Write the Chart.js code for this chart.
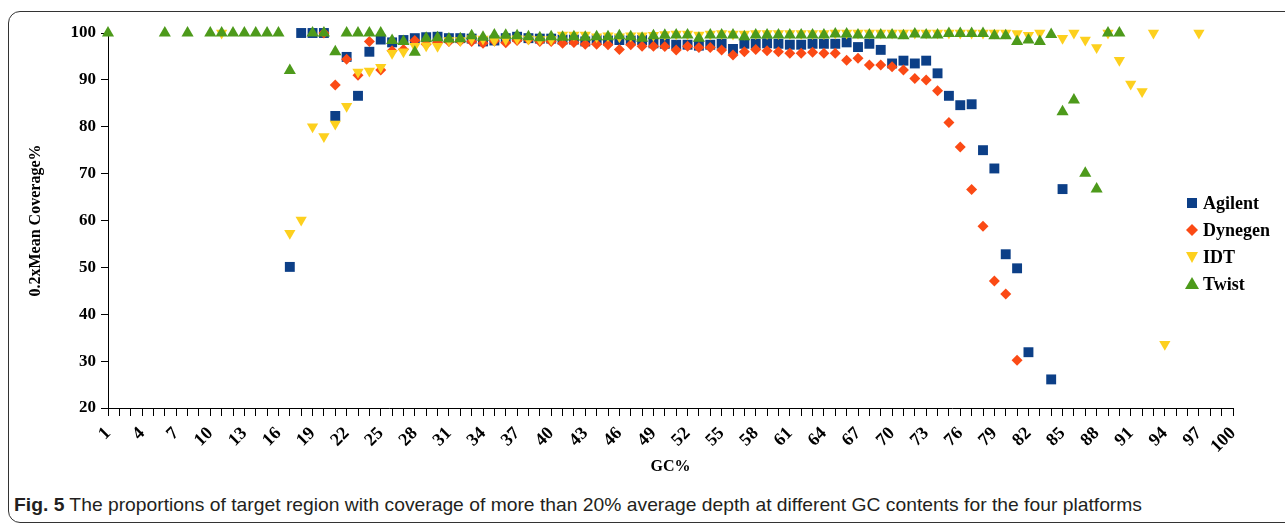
<!DOCTYPE html>
<html>
<head>
<meta charset="utf-8">
<script src="https://cdn.jsdelivr.net/npm/chart.js@4.4.0/dist/chart.umd.min.js"></script>
<style>
  html, body { margin: 0; padding: 0; background: #fff; }
  body { width: 1285px; height: 525px; position: relative; overflow: hidden; }
  #frame { position: absolute; left: 8px; top: 11px; width: 1300px; height: 512px;
           border: 1px solid #333; border-radius: 12px; box-sizing: border-box; }
  #wrap { position: absolute; left: 0; top: 0; width: 1285px; height: 480px; }
  #caption { position: absolute; left: 14px; top: 495px; font-family: "Liberation Sans Narrow", "Liberation Sans", sans-serif;
             font-size: 19px; line-height: 20px; color: #231f20; white-space: nowrap; transform-origin: left top; }
  #caption b { font-weight: bold; }
</style>
</head>
<body>
<div id="frame"></div>
<div id="wrap"><canvas id="gcChart" width="1285" height="480"></canvas></div>
<div id="caption"><b>Fig. 5</b> The proportions of target region with coverage of more than 20% average depth at different GC contents for the four platforms</div>

<script>
// GC% categories 1..100
const gcLabels = [];
for (let i = 1; i <= 100; i++) gcLabels.push(String(i));

// Agilent
const agilentGC = [17, 18, 19, 20, 21, 22, 23, 24, 25, 26, 27, 28, 29, 30, 31, 32, 33, 34, 35, 36, 37, 38, 39, 40,
    41, 42, 43, 44, 45, 46, 47, 48, 49, 50, 51, 52, 53, 54, 55, 56, 57, 58, 59, 60, 61, 62, 63, 64, 65, 66, 67, 68,
    69, 70, 71, 72, 73, 74, 75, 76, 77, 78, 79, 80, 81, 82, 84, 85];
const agilentCov = [50.1, 100, 100, 100, 82.3, 94.9, 86.6, 96.0, 98.6, 98.0, 98.5, 98.9, 99.1, 99.2, 98.9, 98.9, 98.8, 98.2, 98.4, 98.9, 99.2, 98.9, 98.8, 98.8,
    98.6, 98.6, 98.2, 98.5, 98.4, 98.5, 98.4, 98.5, 97.8, 97.7, 97.5, 97.5, 97.3, 97.5, 97.7, 96.6, 97.7, 97.7, 97.8, 97.7, 97.5, 97.5, 97.7, 97.7, 97.7, 98.0, 97.0, 97.7,
    96.4, 93.5, 94.1, 93.5, 94.1, 91.4, 86.6, 84.6, 84.8, 75.0, 71.1, 52.8, 49.8, 31.9, 26.1, 66.7];

// Dynegen
const dynegenGC = [20, 21, 22, 23, 24, 25, 26, 27, 28, 29, 30, 31, 32, 33, 34, 35, 36, 37, 38, 39, 40, 41, 42, 43, 44,
    45, 46, 47, 48, 49, 50, 51, 52, 53, 54, 55, 56, 57, 58, 59, 60, 61, 62, 63, 64, 65, 66, 67, 68, 69, 70, 71, 72,
    73, 74, 75, 76, 77, 78, 79, 80, 81];
const dynegenCov = [100, 88.9, 94.4, 91.0, 98.2, 92.1, 96.2, 96.5, 98.4, 97.6, 98.0, 98.2, 98.3, 98.2, 97.8, 98.3, 97.9, 98.4, 98.6, 98.2, 98.2, 97.8, 98.0, 97.6, 97.6,
    97.5, 96.5, 97.5, 97.2, 97.2, 97.1, 96.4, 97.2, 96.9, 96.9, 96.4, 95.3, 96.0, 96.5, 96.2, 96.0, 95.7, 95.7, 95.9, 95.7, 95.7, 94.2, 94.6, 93.2, 93.2, 92.8, 92.1, 90.3,
    90.0, 87.7, 80.9, 75.7, 66.6, 58.8, 47.1, 44.3, 30.2];

// IDT
const idtGC = [11, 17, 18, 19, 20, 21, 22, 23, 24, 25, 26, 27, 28, 29, 30, 31, 32, 33, 34, 35, 36, 37, 38, 39, 40,
    41, 42, 43, 44, 45, 46, 47, 48, 49, 50, 51, 52, 53, 54, 55, 56, 57, 58, 59, 60, 61, 62, 63, 64, 65, 66, 67, 68,
    69, 70, 71, 72, 73, 74, 75, 76, 77, 78, 79, 80, 81, 82, 83, 85, 86, 87, 88, 89, 90, 91, 92, 93, 94, 97];
const idtCov = [100, 57.3, 60.1, 80.0, 77.9, 80.6, 84.4, 91.7, 91.9, 92.7, 95.7, 96.0, 97.2, 97.3, 97.2, 98.4, 98.4, 98.8, 98.7, 98.4, 98.6, 98.8, 98.7, 98.6, 98.6,
    99.6, 99.6, 99.6, 99.2, 99.4, 99.2, 99.4, 99.4, 99.5, 99.7, 99.8, 99.8, 99.6, 99.8, 99.9, 99.8, 99.8, 99.9, 99.9, 99.9, 99.9, 99.9, 99.9, 99.9, 100, 100, 100, 100,
    100, 100, 100, 100, 100, 100, 100, 100, 100, 100, 100, 100, 99.9, 99.5, 100, 98.9, 100, 98.5, 96.9, 100, 94.2, 89.1, 87.5, 100, 33.6, 100];

// Twist
const twistGC = [1, 6, 8, 10, 11, 12, 13, 14, 15, 16, 17, 19, 20, 21, 22, 23, 24, 25, 26, 27, 28, 29, 30, 31, 32, 33,
    34, 35, 36, 37, 38, 39, 40, 41, 42, 43, 44, 45, 46, 47, 48, 49, 50, 51, 52, 53, 54, 55, 56, 57, 58, 59, 60, 61,
    62, 63, 64, 65, 66, 67, 68, 69, 70, 71, 72, 73, 74, 75, 76, 77, 78, 79, 80, 81, 82, 83, 84, 85, 86, 87, 88, 89, 90];
const twistCov = [100, 100, 100, 100, 100, 100, 100, 100, 100, 100, 92.0, 100, 100, 96.0, 100, 100, 100, 100, 98.4, 98.2, 95.9, 98.9, 99.0, 98.7, 98.8, 99.4,
    99.1, 99.6, 99.5, 99.4, 99.2, 99.0, 99.2, 99.1, 99.2, 99.1, 99.2, 99.2, 99.4, 99.2, 98.9, 99.4, 99.5, 99.6, 99.6, 98.9, 99.6, 99.6, 99.6, 99.2, 99.6, 99.6, 99.6, 99.6,
    99.6, 99.6, 99.6, 99.8, 99.8, 99.6, 99.6, 99.6, 99.6, 99.4, 99.8, 99.6, 99.6, 99.9, 99.9, 99.9, 99.9, 99.4, 99.4, 98.2, 98.5, 98.2, 99.7, 83.2, 85.7, 70.1, 66.7, 100, 100];

const seriesNames = ['Agilent', 'Dynegen', 'IDT', 'Twist'];
const seriesColors = ['#0c3f87', '#fb4a15', '#fdd01e', '#4d9a1b'];

const serif = "'Liberation Serif', 'Times New Roman', serif";

function toPoints(gc, cov) {
    return gc.map((g, i) => ({ x: String(g), y: cov[i] }));
}

// legend drawn inside the plot, at the right side (like the original)
const sideLegend = {
    id: 'sideLegend',
    afterDraw(chart) {
        const ctx = chart.ctx;
        const area = chart.chartArea;
        const x0 = area.right - 41;
        const y0 = area.top + 170;
        ctx.save();
        ctx.font = 'bold 18px ' + serif;
        ctx.textBaseline = 'middle';
        ctx.textAlign = 'left';
        seriesNames.forEach((name, i) => {
            const y = y0 + i * 27;
            ctx.fillStyle = seriesColors[i];
            ctx.beginPath();
            if (i === 0) {
                ctx.rect(x0 - 5, y - 5, 10, 10);
            } else if (i === 1) {
                ctx.moveTo(x0, y - 6); ctx.lineTo(x0 + 6, y); ctx.lineTo(x0, y + 6); ctx.lineTo(x0 - 6, y);
            } else if (i === 2) {
                ctx.moveTo(x0 - 6, y - 5); ctx.lineTo(x0 + 6, y - 5); ctx.lineTo(x0, y + 6);
            } else {
                ctx.moveTo(x0 - 7, y + 5); ctx.lineTo(x0 + 7, y + 5); ctx.lineTo(x0, y - 7);
            }
            ctx.closePath();
            ctx.fill();
            ctx.fillStyle = '#000';
            ctx.fillText(name, x0 + 11, y + 1);
        });
        ctx.restore();
    }
};

const ctx = document.getElementById('gcChart').getContext('2d');

new Chart(ctx, {
    type: 'line',
    data: {
        labels: gcLabels,
        datasets: [
            {
                label: seriesNames[0], data: toPoints(agilentGC, agilentCov), order: 4,
                pointStyle: 'rect', pointRadius: 7, pointBorderWidth: 0,
                backgroundColor: seriesColors[0], borderColor: seriesColors[0]
            },
            {
                label: seriesNames[1], data: toPoints(dynegenGC, dynegenCov), order: 3,
                pointStyle: 'rectRot', pointRadius: 5.5, pointBorderWidth: 0,
                backgroundColor: seriesColors[1], borderColor: seriesColors[1]
            },
            {
                label: seriesNames[2], data: toPoints(idtGC, idtCov), order: 2,
                pointStyle: 'triangle', pointRotation: 180, pointRadius: 6.5, pointBorderWidth: 0,
                backgroundColor: seriesColors[2], borderColor: seriesColors[2]
            },
            {
                label: seriesNames[3], data: toPoints(twistGC, twistCov), order: 1,
                pointStyle: 'triangle', pointRadius: 7, pointBorderWidth: 0,
                backgroundColor: seriesColors[3], borderColor: seriesColors[3]
            }
        ]
    },
    options: {
        responsive: false,
        animation: false,
        showLine: false,
        clip: false,
        layout: { padding: { left: 8, right: 52, top: 33, bottom: 0 } },
        plugins: {
            legend: { display: false },
            tooltip: { enabled: false }
        },
        scales: {
            x: {
                type: 'category',
                offset: false,
                ticks: {
                    autoSkip: false,
                    minRotation: 45,
                    maxRotation: 45,
                    padding: 7,
                    color: '#000',
                    font: { family: serif, size: 18, weight: 'bold' },
                    callback: (val, i) => (i % 3 === 0 ? gcLabels[i] : '')
                },
                grid: { drawOnChartArea: false, drawTicks: true, tickLength: 8, color: '#000', offset: false },
                border: { display: true, color: '#000', width: 1 },
                title: {
                    display: true, text: 'GC%', color: '#000',
                    font: { family: serif, size: 16, weight: 'bold' },
                    padding: { top: 0, bottom: 4 }
                },
                afterFit: (scale) => { scale.height = 72; }
            },
            y: {
                min: 20,
                max: 100,
                ticks: {
                    stepSize: 10,
                    padding: 5,
                    color: '#000',
                    font: { family: serif, size: 17, weight: 'bold' }
                },
                grid: { drawOnChartArea: false, drawTicks: true, tickLength: 7, color: '#000' },
                border: { display: true, color: '#000', width: 1 },
                title: {
                    display: true, text: '0.2xMean Coverage%', color: '#000',
                    font: { family: serif, size: 16, weight: 'bold' },
                    padding: { top: 18, bottom: 0 }
                },
                afterFit: (scale) => { scale.width = 100; }
            }
        }
    },
    plugins: [sideLegend]
});

// squeeze caption to the original width
const cap = document.getElementById('caption');
const capW = cap.getBoundingClientRect().width;
cap.style.transform = 'scaleX(' + (1128 / capW) + ')';
</script>
</body>
</html>
